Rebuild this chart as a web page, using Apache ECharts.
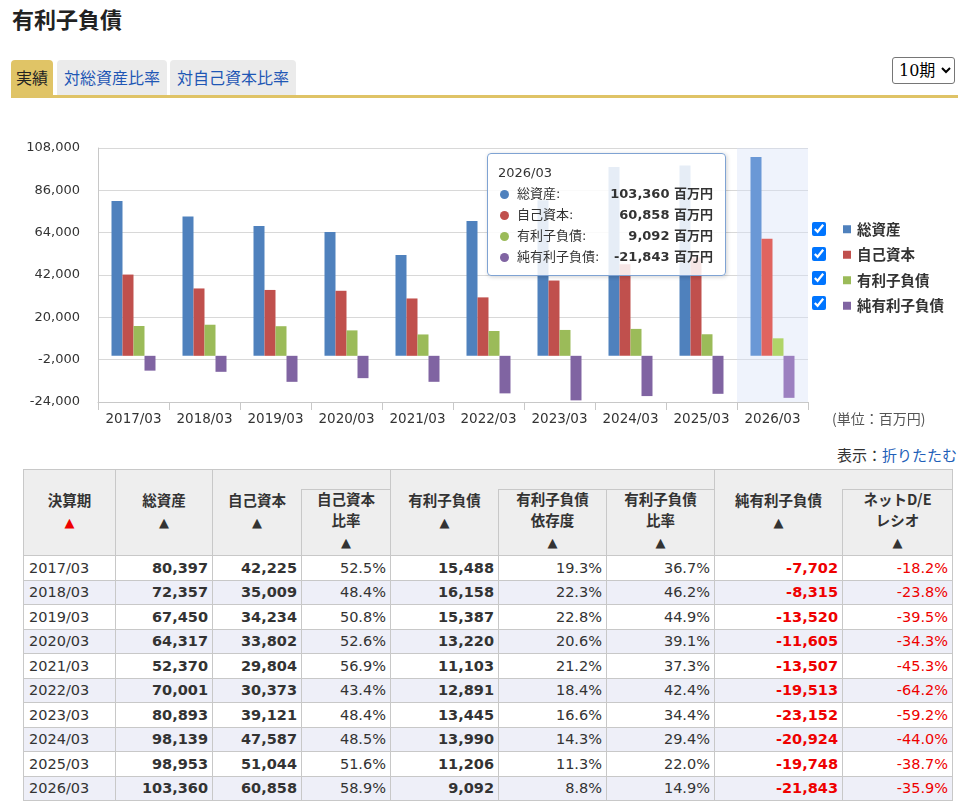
<!DOCTYPE html>
<html><head><meta charset="utf-8">
<script src="https://cdn.jsdelivr.net/npm/echarts@6/dist/echarts.min.js"></script>
<style>
body{margin:0;background:#fff;font-family:"DejaVu Sans","Noto Sans CJK JP",sans-serif;color:#333;width:970px;height:805px;overflow:hidden;position:relative}
#title{position:absolute;left:12px;top:4px;font-family:"Noto Sans CJK JP",sans-serif;font-size:22px;font-weight:bold;line-height:28px;color:#222}
.tab{position:absolute;top:60px;height:35px;line-height:35px;font-family:"Noto Sans CJK JP",sans-serif;font-size:16px;text-align:center;border-radius:4px 4px 0 0;color:#1f57b5;background:#ebebeb}
#tab1{left:11px;width:42px;background:#e0c466;color:#222}
#tab2{left:57px;width:110px}
#tab3{left:170px;width:126px}
#goldbar{position:absolute;left:11px;top:95px;width:947px;height:3px;background:#dfc366}
#sel{position:absolute;left:892px;top:57px;width:63px;height:27px;font-size:16px;font-family:"DejaVu Serif","Noto Sans CJK JP",serif;border:1px solid #767676;border-radius:3px;background:#fff;color:#000;padding:0 2px}
#chart{position:absolute;left:0;top:102px;width:970px;height:340px}
.cb{position:absolute;left:812px;width:14px;height:14px;margin:0}
#disp{position:absolute;right:13px;top:444px;font-family:"Noto Sans CJK JP",sans-serif;font-size:15px;color:#333;line-height:22px}
#disp a{color:#1f5fb8;text-decoration:none}
#tbl{position:absolute;left:23px;top:469px;border-collapse:collapse;table-layout:fixed;width:929px;font-size:14.5px}
#tbl th,#tbl td{border:1px solid #c8c8c8}
#tbl th{background:#eeeeee;font-weight:bold;line-height:21px;text-align:center;vertical-align:middle;padding:0;font-family:"Noto Sans CJK JP","DejaVu Sans",sans-serif;color:#333}
#tbl th .in{position:relative;top:-2px}
#tbl td{padding:0 4px 0 5px;height:23.5px;line-height:20px;text-align:right;white-space:nowrap}
#tbl td.d{text-align:left}
#tbl td.b{font-weight:bold;color:#333}
#tbl td.neg{color:#ee0000}
#tbl tbody tr:nth-child(even) td{background:#eeeff8}
.tri{font-family:"DejaVu Sans",sans-serif;font-size:13px}
</style></head>
<body>
<div id="title">有利子負債</div>
<div class="tab" id="tab1">実績</div>
<div class="tab" id="tab2">対総資産比率</div>
<div class="tab" id="tab3">対自己資本比率</div>
<div id="goldbar"></div>
<select id="sel"><option>10期</option></select>
<div id="chart"></div>
<input type="checkbox" class="cb" style="top:222px" checked>
<input type="checkbox" class="cb" style="top:247px" checked>
<input type="checkbox" class="cb" style="top:271px" checked>
<input type="checkbox" class="cb" style="top:296px" checked>
<div id="disp">表示：<a>折りたたむ</a></div>
<table id="tbl">
<colgroup><col style="width:92px"><col style="width:97px"><col style="width:89px"><col style="width:89px"><col style="width:108px"><col style="width:108px"><col style="width:108px"><col style="width:128px"><col style="width:110px"></colgroup>
<thead>
<tr style="height:20px">
<th rowspan="2"><div class="in">決算期<br><span class="tri" style="color:#e00">▲</span></div></th>
<th rowspan="2"><div class="in">総資産<br><span class="tri">▲</span></div></th>
<th rowspan="2" style="border-right:none"><div class="in">自己資本<br><span class="tri">▲</span></div></th>
<th style="border-left:none"></th>
<th rowspan="2" style="border-right:none"><div class="in">有利子負債<br><span class="tri">▲</span></div></th>
<th colspan="2" style="border-left:none"></th>
<th rowspan="2" style="border-right:none"><div class="in">純有利子負債<br><span class="tri">▲</span></div></th>
<th style="border-left:none"></th>
</tr>
<tr style="height:65px">
<th><div class="in">自己資本<br>比率<br><span class="tri">▲</span></div></th>
<th><div class="in">有利子負債<br>依存度<br><span class="tri">▲</span></div></th>
<th><div class="in">有利子負債<br>比率<br><span class="tri">▲</span></div></th>
<th><div class="in">ネットD/E<br>レシオ<br><span class="tri">▲</span></div></th>
</tr>
</thead>
<tbody id="tb"></tbody>
</table>
<script>
const periods = ['2017/03','2018/03','2019/03','2020/03','2021/03','2022/03','2023/03','2024/03','2025/03','2026/03'];
const totalAssets = [80397,72357,67450,64317,52370,70001,80893,98139,98953,103360];
const equity = [42225,35009,34234,33802,29804,30373,39121,47587,51044,60858];
const equityRatio = [52.5,48.4,50.8,52.6,56.9,43.4,48.4,48.5,51.6,58.9];
const debt = [15488,16158,15387,13220,11103,12891,13445,13990,11206,9092];
const debtDependence = [19.3,22.3,22.8,20.6,21.2,18.4,16.6,14.3,11.3,8.8];
const debtRatio = [36.7,46.2,44.9,39.1,37.3,42.4,34.4,29.4,22.0,14.9];
const netDebt = [-7702,-8315,-13520,-11605,-13507,-19513,-23152,-20924,-19748,-21843];
const netDE = [-18.2,-23.8,-39.5,-34.3,-45.3,-64.2,-59.2,-44.0,-38.7,-35.9];
const seriesNames = ['総資産','自己資本','有利子負債','純有利子負債'];
const yTicks = {min:-24000, max:108000, interval:22000};

function fmt(v){return v.toLocaleString('en-US');}
function pct(v){return v.toFixed(1)+'%';}

// table
let rows='';
for(let i=0;i<periods.length;i++){
  rows += '<tr>'+
    '<td class="d">'+periods[i]+'</td>'+
    '<td class="b">'+fmt(totalAssets[i])+'</td>'+
    '<td class="b">'+fmt(equity[i])+'</td>'+
    '<td>'+pct(equityRatio[i])+'</td>'+
    '<td class="b">'+fmt(debt[i])+'</td>'+
    '<td>'+pct(debtDependence[i])+'</td>'+
    '<td>'+pct(debtRatio[i])+'</td>'+
    '<td class="b'+(netDebt[i]<0?' neg':'')+'">'+fmt(netDebt[i])+'</td>'+
    '<td class="'+(netDE[i]<0?'neg':'')+'">'+pct(netDE[i])+'</td>'+
  '</tr>';
}
document.getElementById('tb').innerHTML = rows;

const colors = ['#4f81bd','#c0504d','#9bbb59','#8064a2'];
const hiColors = ['#6a98d6','#e0645f','#b0d468','#9c80c0'];
const seriesData = [totalAssets, equity, debt, netDebt];

const chart = echarts.init(document.getElementById('chart'), null, {renderer:'canvas'});
chart.setOption({
  animation:false,
  color:colors,
  textStyle:{fontFamily:'"DejaVu Sans","Noto Sans CJK JP",sans-serif'},
  grid:{left:98, top:46, width:710, height:254, outerBoundsMode:'none', containLabel:false},
  legend:{
    orient:'vertical', left:843, top:120, itemWidth:8, itemHeight:8, itemGap:11, padding:0,
    icon:'rect',
    textStyle:{fontSize:14.5, fontWeight:'bold', color:'#333', lineHeight:14, fontFamily:'"Noto Sans CJK JP",sans-serif', padding:[0,0,0,1]},
    data:seriesNames
  },
  tooltip:{
    trigger:'axis', triggerOn:'none', alwaysShowContent:true,
    axisPointer:{type:'shadow', z:1, shadowStyle:{color:'rgba(218,226,247,0.42)'}},
    position:[487,51],
    backgroundColor:'rgba(255,255,255,0.86)', borderColor:'#7fa3d3', borderWidth:1,
    padding:[8,12,8,10],
    extraCssText:'box-shadow:1px 1px 4px rgba(0,0,0,0.18);border-radius:4px;',
    formatter:function(params){
      let h='<div style="width:215px;font-family:DejaVu Sans,Noto Sans CJK JP,sans-serif;font-size:13px;color:#333;line-height:21px">'+params[0].axisValue+
        '<table style="width:100%;border-collapse:collapse;font-size:13px;color:#333;line-height:21px">';
      params.forEach(function(p){
        h+='<tr><td style="padding:0;white-space:nowrap"><span style="display:inline-block;width:9px;height:9px;border-radius:50%;background:'+colors[p.seriesIndex]+';margin:0 8px 1px 2px;vertical-align:middle"></span>'+p.seriesName+':</td>'+
           '<td style="padding:0;text-align:right;font-weight:bold;white-space:nowrap">'+fmt(p.value)+' 百万円</td></tr>';
      });
      return h+'</table></div>';
    }
  },
  xAxis:{
    type:'category', data:periods, boundaryGap:true,
    axisLine:{show:true, onZero:false, lineStyle:{color:'#c8c8c8'}},
    axisTick:{show:true, length:8, lineStyle:{color:'#c8c8c8'}},
    axisLabel:{fontSize:13.5, color:'#333', margin:11, interval:0}
  },
  yAxis:{
    type:'value', min:yTicks.min, max:yTicks.max, interval:yTicks.interval,
    axisLine:{show:true, lineStyle:{color:'#c8c8c8'}},
    axisTick:{show:false},
    splitLine:{show:true, lineStyle:{color:'#d8d8d8'}},
    axisLabel:{fontSize:13, color:'#333', margin:18, formatter:function(v){return fmt(v);}}
  },
  graphic:[{type:'text', left:832, top:310, style:{text:'(単位：百万円)', fill:'#555', font:'14px "Noto Sans CJK JP", sans-serif'}}],
  series: seriesNames.map(function(n,i){
    return {name:n, type:'bar', data:seriesData[i], barWidth:11, barGap:'0%', z:2,
      itemStyle:{color:colors[i]},
      emphasis:{itemStyle:{color:hiColors[i]}}};
  })
});
chart.dispatchAction({type:'showTip', seriesIndex:0, dataIndex:9});
chart.dispatchAction({type:'highlight', seriesIndex:[0,1,2,3], dataIndex:9});
</script>
</body></html>
